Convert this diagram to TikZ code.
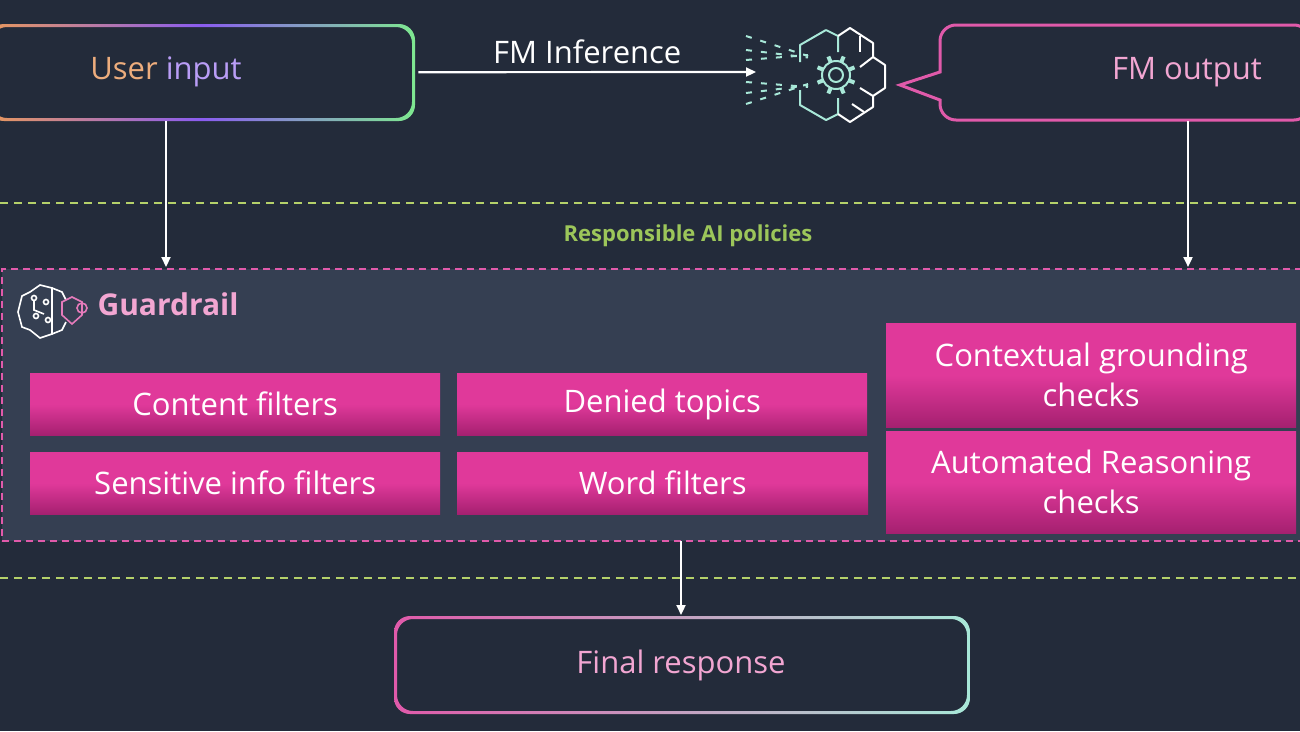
\documentclass[tikz,border=0pt]{standalone}
\usepackage{fontspec}
\setmainfont{Open Sans}
\usetikzlibrary{arrows.meta,calc}
\definecolor{bg}{HTML}{232B3A}
\definecolor{panel}{HTML}{353F52}
\definecolor{pinkA}{HTML}{E0399A}
\definecolor{pinkB}{HTML}{A52070}
\definecolor{dashg}{HTML}{B5D16A}
\definecolor{labg}{HTML}{9CC65A}
\definecolor{gpink}{HTML}{E05AAA}
\definecolor{teal}{HTML}{A8E8D8}
\definecolor{uorange}{HTML}{E8985C}
\definecolor{uviolet}{HTML}{8A5CF0}
\definecolor{ugreen}{HTML}{7EE890}
\definecolor{fopink}{HTML}{F2A6D2}
\pgfdeclarehorizontalshading{userborder}{100bp}{color(0bp)=(uorange);color(25bp)=(uorange);color(50bp)=(uviolet);color(75bp)=(ugreen);color(100bp)=(ugreen)}
\pgfdeclarehorizontalshading{finalborder}{100bp}{color(0bp)=(gpink);color(25bp)=(gpink);color(75bp)=(teal);color(100bp)=(teal)}
\tikzset{
  every node/.style={text=white},
  pbox/.style={draw=none, top color=pinkA, bottom color=pinkB, middle color=pinkA, minimum height=62pt, font=\fontsize{31}{40}\selectfont, align=center, inner sep=0pt},
  arr/.style={-{Triangle[length=10pt,width=9pt]}, white, line width=2.2pt},
  gdash/.style={dashg, dashed, line width=1.3pt, dash pattern=on 8pt off 6pt},
  lbl/.style={font=\fontsize{31}{35}\selectfont},
}
\begin{document}
\begin{tikzpicture}[x=1pt,y=-1pt]
\fill[bg] (0,0) rectangle (1300,731);
\useasboundingbox (0,0) rectangle (1300,731);
% dashed policy lines
\draw[gdash] (0,203) -- (1300,203);
\draw[gdash] (0,578) -- (1300,578);
\node[font=\bfseries\fontsize{22}{26}\selectfont, text=labg] (pol) at (688,236) {Responsible AI policies};
% guardrail panel
\node[draw=gpink, fill=panel, dash pattern=on 7pt off 5pt, line width=2pt, minimum width=1300pt, minimum height=272pt, anchor=north west, inner sep=0pt] (gr) at (1,268) {};
% user input box
\path[even odd rule, shading=userborder] [rounded corners=16pt] (-12,24) rectangle (415,121) (-9,27) rectangle (412,118);
\node[minimum width=424pt, minimum height=94pt, anchor=north west] (ui) at (-10,25) {};
\node[lbl] at (166,72) {\textcolor{uorange!80!white}{User} \textcolor{uviolet!60!white}{input}};
% final response
\path[even odd rule, shading=finalborder] [rounded corners=16pt] (394,616) rectangle (970,714) (397,619) rectangle (967,711);
\node[minimum width=574pt, minimum height=96pt, anchor=north west] (fr) at (395,617) {};
\node[lbl, text=fopink] at (681,665) {Final response};
% FM output callout
\draw[gpink, line width=3pt, line join=miter] (940,72) [rounded corners=16pt] -- (940,25) -- (1310,25) -- (1310,120) -- (940,120) [sharp corners] -- (940,100) -- (900,85) -- cycle;
\node[minimum width=370pt, minimum height=94pt, anchor=north west] (fo) at (940,25) {};
\node[lbl, text=fopink] at (1187,72) {FM output};
% model icon
\begin{scope}[line width=2pt, line join=round]
\draw[teal] (826,30) -- (800,45) -- (800,62);
\draw[teal] (800,90) -- (800,105) -- (826,120) -- (838,114) -- (838,98);
\draw[teal] (826,30) -- (838,36) -- (838,52);
\draw[white] (838,36) -- (850,28) -- (873,43) -- (873,57) -- (885,65) -- (885,88) -- (873,96) -- (873,107) -- (850,122) -- (838,114);
\draw[white] (860,36) -- (860,52);
\draw[white] (873,57) -- (860,67);
\draw[white] (873,96) -- (860,88);
\draw[white] (864,112) -- (852,104);
\draw[teal] (836,75) circle (7pt);
\foreach \a in {0,45,...,315} \draw[teal, line width=4pt] ($(836,75)+(\a+22.5:14pt)$) -- ($(836,75)+(\a+22.5:20pt)$);
\draw[teal] (836,75) circle (14pt);
\foreach \y/\d in {36/-8,50/-3,60/2,82/-2,93/3,104/8} \draw[teal, dash pattern=on 6pt off 9pt, line width=2pt] (746,\y) -- (808,\y-\d*2.5);
\end{scope}
\coordinate (mi) at (756,72);
\draw[arr] (ui.east) ++(4,0) -- (mi) node[midway, above=4pt, lbl] {FM Inference};
% down arrows
\draw[arr] (166,121) -- (166,267);
\draw[arr] (1188,121) -- (1188,267);
\draw[arr] (681,541) -- (681,615);
% guardrail header
\begin{scope}[line width=1.6pt, white]
\draw (40,285) -- (30,292) -- (22,296) -- (18,312) -- (22,327) -- (30,330) -- (40,338) -- (52,334) -- (52,288) -- cycle;
\draw (52,288) -- (62,292) -- (66,300);
\draw (52,334) -- (62,330) -- (66,322);
\draw (34,298) circle (2.5pt) (46,302) circle (2.5pt) (36,316) circle (2.5pt) (48,320) circle (2.5pt);
\draw (34,301) -- (34,310) -- (44,314);
\draw[gpink!80!white] (62,302) -- (72,297) -- (82,302) -- (82,315) -- (72,324) -- (62,315) -- cycle;
\draw[gpink!80!white] (82,308) circle (5pt);
\end{scope}
\node[font=\bfseries\fontsize{30}{34}\selectfont, text=fopink, anchor=west] (grt) at (94,304) {Guardrail};
% filter boxes
\node[pbox, minimum width=410pt, anchor=north west] (cf) at (30,373) {Content filters};
\node[pbox, minimum width=410pt, anchor=north west] (dt) at (457,373) {Denied topics};
\node[pbox, minimum width=410pt, anchor=north west] (sf) at (30,452) {Sensitive info filters};
\node[pbox, minimum width=411pt, anchor=north west] (wf) at (457,452) {Word filters};
\node[pbox, minimum width=410pt, minimum height=104pt, anchor=north west] (cg) at (886,323) {Contextual grounding\\checks};
\node[pbox, minimum width=410pt, minimum height=102pt, anchor=north west] (ar) at (886,431) {Automated Reasoning\\checks};
\end{tikzpicture}
\end{document}
